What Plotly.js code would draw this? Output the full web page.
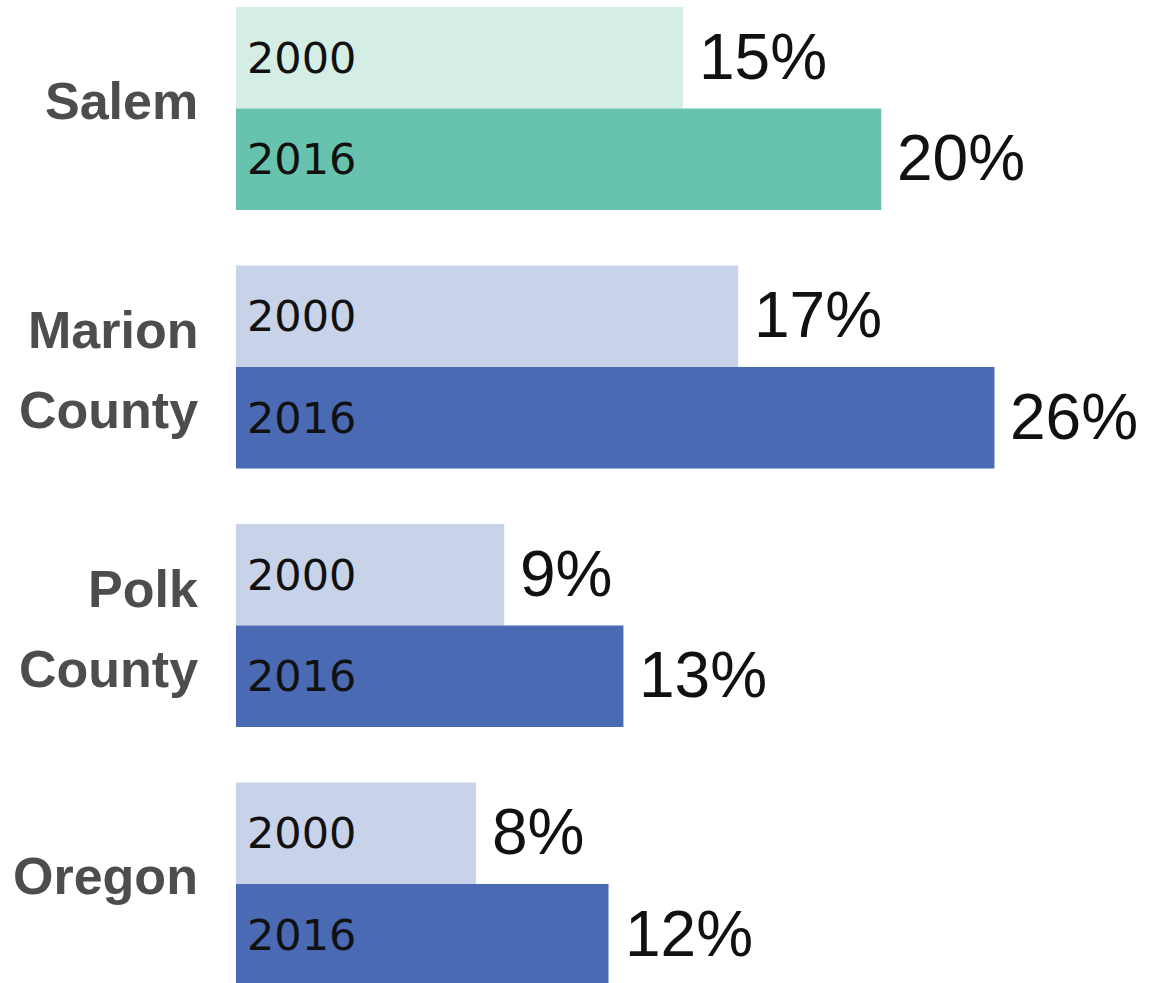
<!DOCTYPE html>
<html>
<head>
<meta charset="utf-8">
<script src="https://cdn.plot.ly/plotly-3.0.1.min.js"></script>
<style>html,body{margin:0;padding:0;background:#fff;}#chart{width:1153px;height:983px;}</style>
</head>
<body>
<div id="chart"></div>
<script>
// ---- data ----
var categories = ['Salem', 'Marion County', 'Polk County', 'Oregon'];
var catLabels = ['Salem', 'Marion<br>County', 'Polk<br>County', 'Oregon'];
var years = ['2000', '2016'];
var values2000 = [15.0, 16.85, 9.0, 8.05];
var values2016 = [21.65, 25.45, 13.0, 12.5];
var labels2000 = ['15%', '17%', '9%', '8%'];
var labels2016 = ['20%', '26%', '13%', '12%'];

// ---- styles ----
var colors2000 = ['#d4ede5', '#c8d2e9', '#c8d2e9', '#c8d2e9'];
var colors2016 = ['#67c3ad', '#4a6ab3', '#4a6ab3', '#4a6ab3'];
var bargap = 0.215;
var barW = (1 - bargap) / 2;
var yIdx = categories.map(function (c, i) { return i; });

var traces = [
  {type: 'bar', orientation: 'h', name: years[0], x: values2000, y: yIdx,
   marker: {color: colors2000, line: {width: 0}}, hoverinfo: 'x'},
  {type: 'bar', orientation: 'h', name: years[1], x: values2016, y: yIdx,
   marker: {color: colors2016, line: {width: 0}}, hoverinfo: 'x'}
];

var annotations = [];
var series = [
  {vals: values2000, labels: labels2000, year: years[0], off: -barW / 2},
  {vals: values2016, labels: labels2016, year: years[1], off: barW / 2}
];
series.forEach(function (s) {
  s.vals.forEach(function (v, i) {
    annotations.push({x: 0, y: i + s.off, xref: 'x', yref: 'y', text: s.year,
      showarrow: false, xanchor: 'left', yanchor: 'middle', xshift: 9,
      font: {family: 'DejaVu Sans, sans-serif', size: 43, color: '#111'}});
    annotations.push({x: v, y: i + s.off, xref: 'x', yref: 'y', text: s.labels[i],
      showarrow: false, xanchor: 'left', yanchor: 'middle', xshift: 14, yshift: 1,
      font: {family: 'Liberation Sans, Arial, sans-serif', size: 64, color: '#111'}});
  });
});
catLabels.forEach(function (lab, i) {
  var lines = lab.split('<br>');
  var n = lines.length;
  lines.forEach(function (ln, k) {
    annotations.push({x: 0, y: i, xref: 'paper', yref: 'y', text: '<b>' + ln + '</b>',
      showarrow: false, xanchor: 'right', yanchor: 'middle', xshift: -36,
      yshift: -((k - (n - 1) / 2) * 80) + (n === 1 ? 8 : -3),
      font: {family: 'Liberation Sans, Arial, sans-serif', size: 52, color: '#4d4d4d'}});
  });
});

var layout = {
  width: 1153, height: 983,
  margin: {l: 236, r: 0, t: 0, b: 0},
  paper_bgcolor: '#ffffff', plot_bgcolor: '#ffffff',
  barmode: 'group', bargap: bargap, bargroupgap: 0,
  showlegend: false,
  xaxis: {range: [0, 30.77], showgrid: false, zeroline: false, showticklabels: false, ticks: '', showline: false},
  yaxis: {range: [3.383, -0.420], showgrid: false, zeroline: false, showticklabels: false, ticks: '', showline: false},
  annotations: annotations
};

Plotly.newPlot('chart', traces, layout, {displayModeBar: false, staticPlot: true});
</script>
</body>
</html>
